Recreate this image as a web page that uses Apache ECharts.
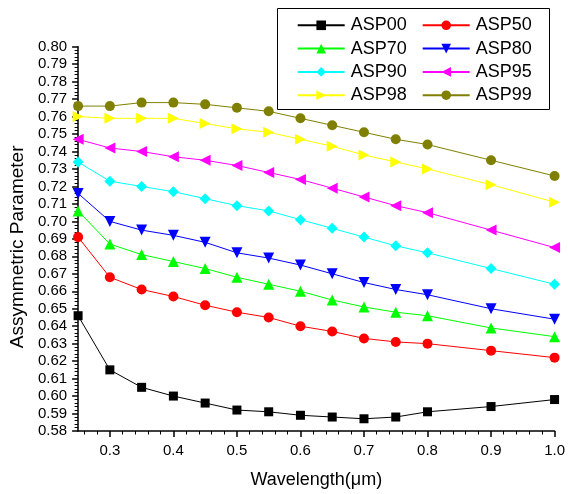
<!DOCTYPE html>
<html>
<head>
<meta charset="utf-8">
<script src="https://cdn.jsdelivr.net/npm/echarts@6/dist/echarts.min.js"></script>
<style>
html,body{margin:0;padding:0;background:#fff;}
#chart{width:568px;height:494px;}
</style>
</head>
<body>
<div id="chart"></div>
<script>
var wavelengths = [0.25,0.3,0.35,0.4,0.45,0.5,0.55,0.6,0.65,0.7,0.75,0.8,0.9,1.0];
var asp00 = [0.646,0.615,0.605,0.600,0.596,0.592,0.591,0.589,0.588,0.587,0.588,0.591,0.594,0.598];
var asp50 = [0.691,0.668,0.661,0.657,0.652,0.648,0.645,0.640,0.637,0.633,0.631,0.630,0.626,0.622];
var asp70 = [0.706,0.687,0.681,0.677,0.673,0.668,0.664,0.660,0.655,0.651,0.648,0.646,0.639,0.634];
var asp80 = [0.716,0.700,0.695,0.692,0.688,0.682,0.679,0.675,0.670,0.665,0.661,0.658,0.650,0.644];
var asp90 = [0.734,0.723,0.720,0.717,0.713,0.709,0.706,0.701,0.696,0.691,0.686,0.682,0.673,0.664];
var asp95 = [0.747,0.742,0.740,0.737,0.735,0.732,0.728,0.724,0.719,0.714,0.709,0.705,0.695,0.685];
var asp98 = [0.760,0.759,0.759,0.759,0.756,0.753,0.751,0.747,0.743,0.738,0.734,0.730,0.721,0.711];
var asp99 = [0.766,0.766,0.768,0.768,0.767,0.765,0.763,0.759,0.755,0.751,0.747,0.744,0.735,0.726];

var xTickValues = [0.3,0.4,0.5,0.6,0.7,0.8,0.9,1.0];

var seriesNames = ['ASP00','ASP50','ASP70','ASP80','ASP90','ASP95','ASP98','ASP99'];
var seriesValues = [asp00, asp50, asp70, asp80, asp90, asp95, asp98, asp99];
var seriesColors = ['#000000','#ff0000','#00ff00','#0000ff','#00ffff','#ff00ff','#ffff00','#808000'];
var seriesSymbols = ['rect','circle','triangle','triangle','diamond','triangle','triangle','circle'];
var seriesRotations = [0,0,0,180,0,90,-90,0];
var seriesSymbolSizes = [9,10,11,11,11,11,11,10];

var FONT = '"Liberation Sans", Arial, sans-serif';

// minor tick positions every 0.02 between 0.25 and 1.0 (excluding majors)
var xMinorTicks = [];
for (var k = 13; k <= 49; k++) {
  var mv = Math.round(k * 2) / 100;
  if (k % 5 !== 0) xMinorTicks.push(mv);
}

function pairs(xs, ys){
  var out = [];
  for (var i = 0; i < xs.length; i++) out.push([xs[i], ys[i]]);
  return out;
}

var series = seriesNames.map(function(name, i){
  return {
    name: name,
    type: 'line',
    xAxisIndex: 0,
    data: pairs(wavelengths, seriesValues[i]),
    symbol: seriesSymbols[i],
    symbolRotate: seriesRotations[i],
    symbolSize: seriesSymbolSizes[i],
    showAllSymbol: true,
    clip: false,
    lineStyle: {color: seriesColors[i], width: 1},
    itemStyle: {color: seriesColors[i]},
    emphasis: {disabled: true},
    animation: false
  };
});

var legendCommon = {
  orient: 'vertical',
  padding: 0,
  itemWidth: 47,
  itemHeight: 12,
  itemGap: 5.3,
  selectedMode: false,
  textStyle: {fontFamily: FONT, fontSize: 18, color: '#000', lineHeight: 18, padding: [0,0,0,1]}
};

var option = {
  animation: false,
  backgroundColor: '#fff',
  grid: {left: 77.5, right: 12, top: 46.7, bottom: 61.3, containLabel: false},
  graphic: [{
    type: 'rect',
    shape: {x: 277.5, y: 8.5, width: 272, height: 101},
    style: {fill: '#fff', stroke: '#000', lineWidth: 1},
    z: 1
  }],
  legend: [
    Object.assign({left: 296.7, top: 16.3, data: ['ASP00','ASP70','ASP90','ASP98']}, legendCommon),
    Object.assign({left: 421.7, top: 16.3, data: ['ASP50','ASP80','ASP95','ASP99']}, legendCommon)
  ],
  xAxis: [{
    type: 'value',
    position: 'bottom',
    min: 0.25,
    max: 1.0,
    interval: 0.05,
    name: 'Wavelength(μm)',
    nameLocation: 'middle',
    nameGap: 40,
    nameTextStyle: {fontFamily: FONT, fontSize: 18, color: '#000'},
    axisLine: {show: true, onZero: false, lineStyle: {color: '#000', width: 1.5}},
    axisTick: {show: true, inside: false, length: 6, customValues: xTickValues, lineStyle: {color: '#000', width: 1.5}},
    axisLabel: {
      fontFamily: FONT, fontSize: 15, color: '#000', margin: 12,
      customValues: xTickValues,
      formatter: function(v){ return v.toFixed(1); }
    },
    splitLine: {show: false}
  }, {
    type: 'value',
    position: 'bottom',
    offset: 0,
    min: 0.25,
    max: 1.0,
    interval: 0.05,
    axisLine: {show: false, onZero: false},
    axisTick: {show: true, inside: false, length: 3.5, customValues: xMinorTicks, lineStyle: {color: '#000', width: 1}},
    axisLabel: {show: false},
    splitLine: {show: false}
  }],
  yAxis: {
    type: 'value',
    min: 0.58,
    max: 0.80,
    interval: 0.01,
    name: 'Assymmetric Parameter',
    nameLocation: 'middle',
    nameGap: 40,
    nameTextStyle: {fontFamily: FONT, fontSize: 19, color: '#000', padding: [0, 16, 0, 0]},
    axisLine: {show: true, onZero: false, lineStyle: {color: '#000', width: 1.5}},
    axisTick: {show: true, inside: false, length: 6, lineStyle: {color: '#000', width: 1.5}},
    minorTick: {show: true, splitNumber: 5, length: 3.5, lineStyle: {color: '#000', width: 1}},
    axisLabel: {
      fontFamily: FONT, fontSize: 15, color: '#000', margin: 11,
      formatter: function(v){ return v.toFixed(2); }
    },
    splitLine: {show: false}
  },
  series: series
};

var chart = echarts.init(document.getElementById('chart'), null, {renderer: 'canvas'});
chart.setOption(option);
</script>
</body>
</html>
